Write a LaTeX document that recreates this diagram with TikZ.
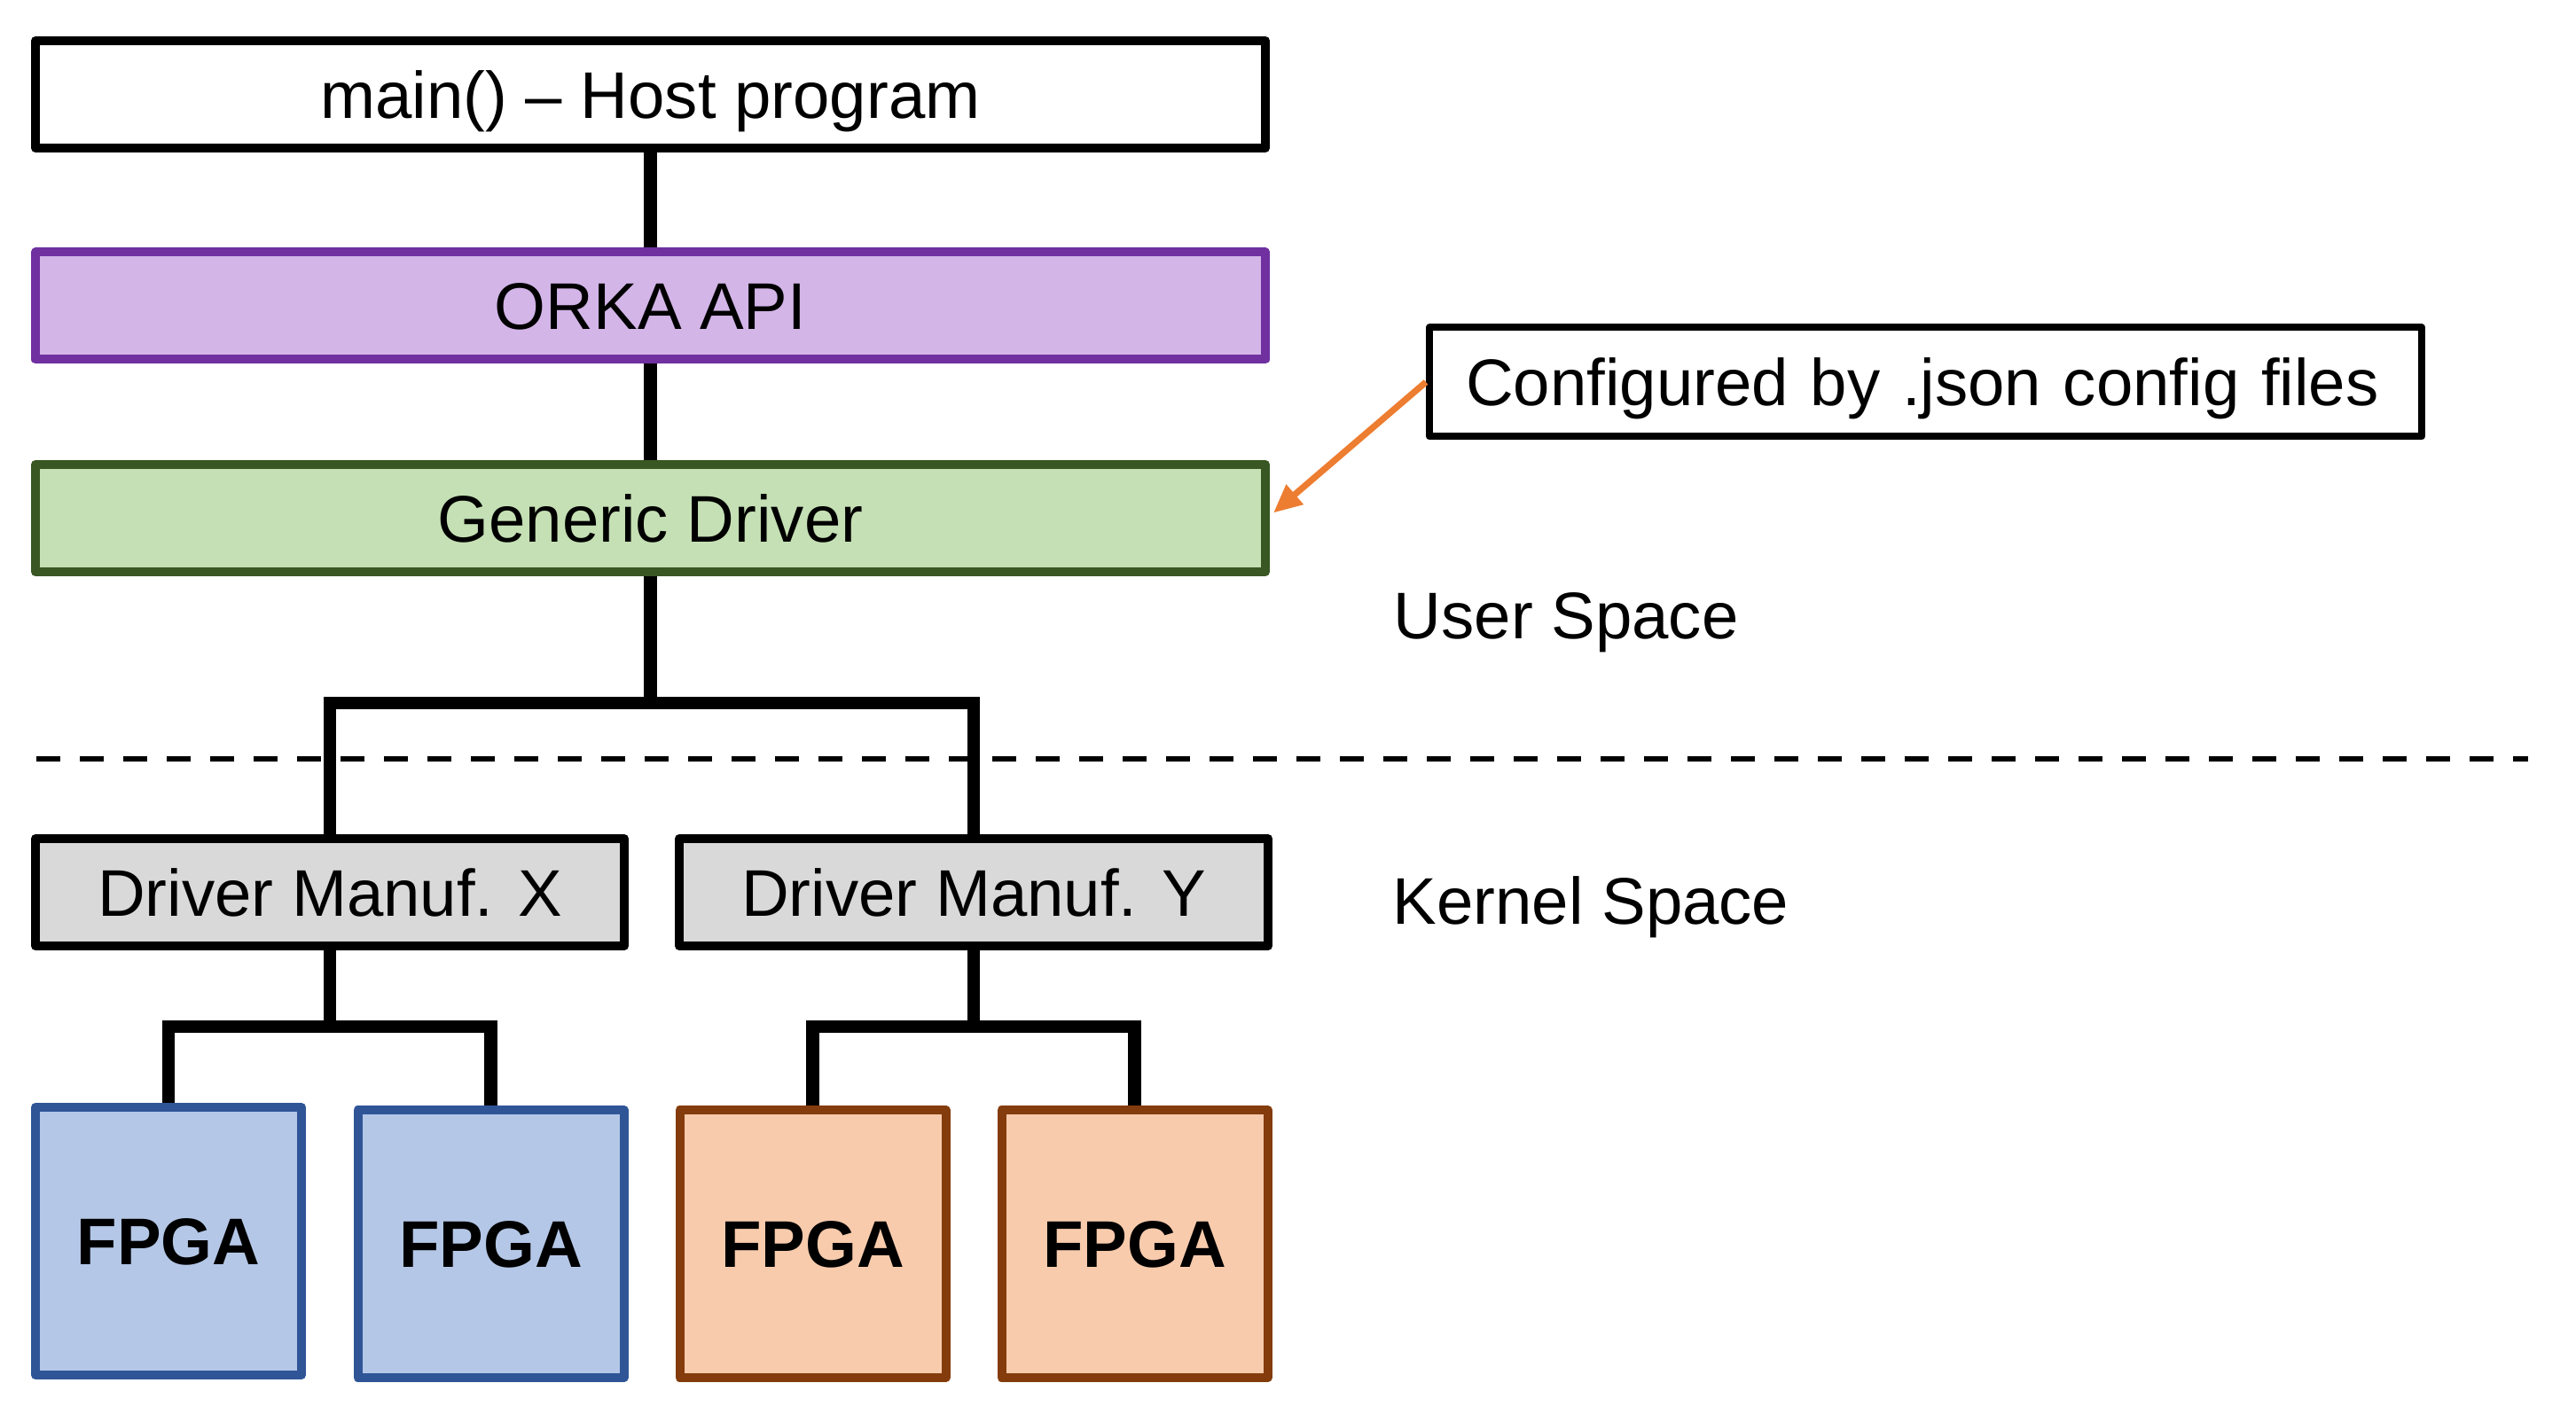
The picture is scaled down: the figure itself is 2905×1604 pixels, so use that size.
\documentclass[tikz,border=0pt]{standalone}
\usepackage{fontspec}
\setmainfont{Liberation Sans}
\usetikzlibrary{arrows.meta,backgrounds}
\definecolor{orkaFill}{HTML}{D3B5E8}
\definecolor{orkaLine}{HTML}{7030A0}
\definecolor{genFill}{HTML}{C5E0B4}
\definecolor{genLine}{HTML}{385723}
\definecolor{drvFill}{HTML}{D9D9D9}
\definecolor{blueFill}{HTML}{B4C7E7}
\definecolor{blueLine}{HTML}{2F5597}
\definecolor{orgFill}{HTML}{F8CBAD}
\definecolor{orgLine}{HTML}{843C0C}
\definecolor{arrowOrange}{HTML}{ED7D31}
\tikzset{
  box/.style={draw, rectangle, line width=2.5pt, line join=round, inner sep=0pt,
    font=\fontsize{18.6pt}{22pt}\selectfont, text height=13.3pt, text depth=0pt},
  widebox/.style={box, minimum width=346.75pt, minimum height=30.25pt},
  drvbox/.style={box, fill=drvFill, minimum width=166pt, minimum height=30.25pt},
  fpgabox/.style={box, minimum width=75pt, minimum height=75.5pt,
    font=\fontsize{18.6pt}{22pt}\selectfont\bfseries},
  conn/.style={line width=3.7pt, line join=miter},
  lbl/.style={font=\fontsize{18.6pt}{22pt}\selectfont, inner sep=0pt, anchor=base west}
}
\begin{document}
\begin{tikzpicture}[x=0.25pt,y=-0.25pt]
\useasboundingbox (0,0) rectangle (2905,1604);
\node[widebox, fill=white] (host) at (733.5,106.5) {main() – Host program};
\node[widebox, fill=orkaFill, draw=orkaLine] (orka) at (733.5,345) {ORKA API};
\node[widebox, fill=genFill, draw=genLine] (gen) at (733.5,584.5) {Generic Driver};
\node[drvbox] (dx) at (372,1006.5) {Driver Manuf. X};
\node[drvbox] (dy) at (1098,1006.5) {Driver Manuf. Y};
\node[fpgabox, fill=blueFill, draw=blueLine] (f1) at (190,1400) {FPGA};
\node[fpgabox, fill=blueFill, draw=blueLine] (f2) at (553.5,1403) {FPGA};
\node[fpgabox, fill=orgFill, draw=orgLine] (f3) at (916.5,1403) {FPGA};
\node[fpgabox, fill=orgFill, draw=orgLine] (f4) at (1279.5,1403) {FPGA};
\node[box, line width=2pt, fill=white, text width=259.25pt, inner xsep=10.25pt,
  minimum height=30.75pt, align=left] (cfg) at (2171.5,431) {Configured by .json config files};
\node[lbl] (us) at (1571,721) {User Space};
\node[lbl] (ks) at (1570,1043) {Kernel Space};
\coordinate (dl) at (41,856);
\coordinate (dr) at (2851,856);
\coordinate (b1) at (733.5,793);
\coordinate (b2) at (372,1158);
\coordinate (b3) at (1098,1158);
\begin{scope}[on background layer]
\draw[conn] (host.south) -- (orka.north);
\draw[conn] (orka.south) -- (gen.north);
\draw[conn] (gen.south) -- (b1);
\draw[conn] (b1) -| (dx.north);
\draw[conn] (b1) -| (dy.north);
\draw[conn] (dx.south) -- (b2);
\draw[conn] (b2) -| (f1.north);
\draw[conn] (b2) -| (f2.north);
\draw[conn] (dy.south) -- (b3);
\draw[conn] (b3) -| (f3.north);
\draw[conn] (b3) -| (f4.north);
\end{scope}
\draw[line width=1.6pt, dash pattern=on 6.75pt off 5.5pt] (dl) -- (dr);
\draw[arrowOrange, line width=1.8pt, -{Triangle[length=8pt,width=7pt]}] (cfg.west) -- ([yshift=1.5pt,xshift=1pt]gen.east);
\end{tikzpicture}
\end{document}
